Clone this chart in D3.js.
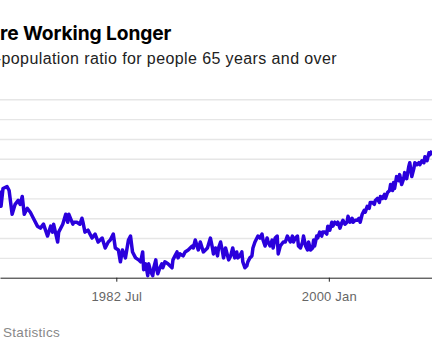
<!DOCTYPE html>
<html>
<head>
<meta charset="utf-8">
<script src="https://cdn.jsdelivr.net/npm/d3@7"></script>
<style>
  body { margin: 0; background: #fff; }
  .grid line { stroke: #e6e6e6; stroke-width: 1.4px; }
  .grid path { display: none; }
  .x-axis path, .x-axis line { stroke: #222; }
  .x-axis text { font-family: "Liberation Sans", Arial, sans-serif; font-size: 13px; fill: #666; letter-spacing: 0.2px; }
</style>
</head>
<body>
<div class="chart"></div>
<script>
// Employment-population ratio, 65 years and over (monthly)
var months = [
  "1972-12","1973-01","1973-03","1973-07","1973-09","1973-12","1974-03","1974-06","1974-08","1974-10",
  "1974-12","1975-03","1975-06","1975-09","1976-01","1976-04","1976-07","1976-11","1977-02","1977-04",
  "1977-05","1977-09","1977-10","1978-02","1978-05","1978-07","1978-08","1978-12","1979-01","1979-04",
  "1979-07","1979-09","1979-10","1979-12","1980-03","1980-07","1980-10","1981-01","1981-05","1981-08",
  "1981-11","1982-01","1982-04","1982-06","1982-09","1982-11","1983-01","1983-04","1983-07","1983-09",
  "1983-11","1984-02","1984-05","1984-07","1984-09","1984-10","1984-12","1985-02","1985-03","1985-05",
  "1985-07","1985-08","1985-10","1985-11","1985-12","1986-02","1986-04","1986-05","1986-07","1986-10",
  "1986-12","1987-02","1987-03","1987-05","1987-07","1987-08","1987-10","1988-01","1988-03","1988-06",
  "1988-08","1988-10","1988-11","1989-01","1989-04","1989-06","1989-09","1990-01","1990-04","1990-06",
  "1990-07","1990-09","1990-11","1990-12","1991-02","1991-04","1991-05","1991-07","1991-10","1991-12",
  "1992-02","1992-04","1992-06","1992-07","1992-09","1992-11","1992-12","1993-02","1993-04","1993-05",
  "1993-07","1993-09","1993-10","1993-12","1994-03","1994-05","1994-07","1994-08","1994-10","1994-12",
  "1995-01","1995-03","1995-05","1995-06","1995-08","1995-10","1995-11","1996-01","1996-04","1996-06",
  "1996-08","1996-11","1997-01","1997-02","1997-04","1997-06","1997-07","1997-09","1997-11","1997-12",
  "1998-02","1998-04","1998-05","1998-07","1998-09","1998-10","1998-11","1999-01","1999-02","1999-04",
  "1999-06","1999-07","1999-09","1999-11","1999-12","2000-02","2000-04","2000-05","2000-07","2000-09",
  "2000-10","2000-12","2001-02","2001-03","2001-05","2001-07","2001-08","2001-10","2001-12","2002-01",
  "2002-03","2002-05","2002-07","2002-08","2002-10","2002-12","2003-01","2003-03","2003-05","2003-06",
  "2003-08","2003-10","2003-11","2004-01","2004-03","2004-04","2004-06","2004-08","2004-09","2004-11",
  "2005-01","2005-02","2005-04","2005-05","2005-06","2005-08","2005-10","2005-11","2006-01","2006-03",
  "2006-04","2006-06","2006-08","2006-09","2006-11","2007-01","2007-02","2007-04","2007-06","2007-07",
  "2007-09","2007-11","2007-12","2008-02","2008-04","2008-05","2008-07"
];
var ratio = [
  14.4,13.6,14.5,14.6,14.4,13.2,13.7,13.9,13.7,14.1,
  13.2,13.5,13.3,13.0,12.6,12.5,12.7,12.1,12.6,12.3,
  12.7,11.8,12.3,12.7,13.2,12.8,13.2,12.7,12.8,12.8,
  12.7,13.0,12.8,12.3,12.4,12.0,12.2,11.8,12.0,11.5,
  11.8,11.9,12.2,11.5,11.4,10.8,11.4,11.0,11.9,12.1,
  11.3,11.0,10.9,10.8,11.3,10.4,10.7,10.1,10.7,10.3,
  10.1,10.5,10.9,10.4,10.2,10.5,10.7,10.5,10.8,10.7,
  10.6,10.5,10.9,11.1,11.3,11.0,11.2,11.1,11.3,11.4,
  11.5,11.6,11.5,11.9,11.4,11.8,11.3,11.5,12.0,11.5,
  11.2,11.5,11.1,11.5,11.8,11.3,11.0,11.5,10.9,11.1,
  11.5,11.0,11.3,11.0,11.1,11.3,10.8,10.5,10.6,10.8,
  11.0,11.1,11.5,11.8,12.1,12.0,12.2,11.9,11.6,12.0,
  11.8,11.6,11.9,11.5,12.0,12.1,11.2,11.6,11.8,11.8,
  12.1,11.8,12.1,11.8,12.0,12.1,11.6,11.5,11.8,12.1,
  11.6,11.4,11.8,11.4,11.5,11.9,11.6,12.1,12.0,12.3,
  12.1,12.3,12.3,12.2,12.6,12.4,12.8,12.6,12.8,12.7,
  12.8,12.5,12.8,12.9,12.7,12.8,13.1,12.8,13.0,12.8,
  12.9,12.9,13.0,12.8,13.2,13.4,13.3,13.6,13.5,13.8,
  13.8,13.7,13.9,14.0,13.8,14.1,14.0,14.2,14.0,14.3,
  14.4,14.7,14.4,14.8,14.5,15.1,14.9,15.2,14.7,15.0,
  15.3,15.0,15.6,15.8,15.1,15.5,15.8,15.7,15.8,15.7,
  15.9,15.8,16.1,15.9,16.3,16.2,16.4
];
var tickMonths = ["1982-07", "2000-01"];
var gridValues = [11, 12, 13, 14, 15, 16, 17, 18, 19];

var svgWidth = 432;
var svgHeight = 361;

var margin = {
  top: 99.3,
  right: 0,
  bottom: 83.3,
  left: 0
};

var width = svgWidth - margin.left - margin.right;
var height = svgHeight - margin.top - margin.bottom;

var svg = d3.select(".chart")
  .append("svg")
  .attr("width", svgWidth)
  .attr("height", svgHeight)
  .style("display", "block");

var parseMonth = d3.timeParse("%Y-%m");
var data = months.map((m, i) => ({ date: parseMonth(m), value: ratio[i] }));

// Title, subtitle and source are cut off on the left like the picture
function cutText(sel, str, hidden, shift) {
  sel.text(str);
  var w = sel.node().getSubStringLength(0, hidden);
  sel.attr("x", shift - w);
}

var title = svg.append("text")
  .attr("y", 40)
  .attr("font-family", "Inter, 'Liberation Sans', sans-serif")
  .attr("font-weight", 700)
  .attr("font-size", "19.2px")
  .attr("letter-spacing", "-0.1px")
  .attr("fill", "#000");
cutText(title, "Americans Are Working Longer", 11, 0);

var subtitle = svg.append("text")
  .attr("y", 64)
  .attr("font-family", "'Liberation Sans', Arial, sans-serif")
  .attr("font-size", "16px")
  .attr("letter-spacing", "0.4px")
  .attr("fill", "#222");
cutText(subtitle, "Employment-population ratio for people 65 years and over", 11, 1.5);

var source = svg.append("text")
  .attr("y", 336.5)
  .attr("font-family", "'Liberation Sans', Arial, sans-serif")
  .attr("font-size", "13.5px")
  .attr("letter-spacing", "0.3px")
  .attr("fill", "#888");
cutText(source, "Source: Bureau of Labor Statistics", 24, 3);

var chartGroup = svg.append("g")
  .attr("transform", `translate(${margin.left}, ${margin.top})`);

var xTimeScale = d3.scaleTime()
  .domain(d3.extent(data, d => d.date))
  .range([0, width]);

var yLinearScale = d3.scaleLinear()
  .domain([10, 19])
  .range([height, 0]);

// gridlines
chartGroup.append("g")
  .attr("class", "grid")
  .call(d3.axisLeft(yLinearScale).tickValues(gridValues).tickSize(-width).tickFormat(""));

var bottomAxis = d3.axisBottom(xTimeScale)
  .tickValues(tickMonths.map(parseMonth))
  .tickFormat(d3.timeFormat("%Y %b"))
  .tickSize(4)
  .tickSizeOuter(0)
  .tickPadding(10);

chartGroup.append("g")
  .attr("class", "x-axis")
  .attr("transform", `translate(0, ${height})`)
  .call(bottomAxis);

var line = d3.line()
  .x(d => xTimeScale(d.date))
  .y(d => yLinearScale(d.value));

chartGroup.append("path")
  .datum(data)
  .attr("d", line)
  .attr("fill", "none")
  .attr("stroke", "#2a00dc")
  .attr("stroke-width", 3.5)
  .attr("stroke-linejoin", "round");
</script>
</body>
</html>
